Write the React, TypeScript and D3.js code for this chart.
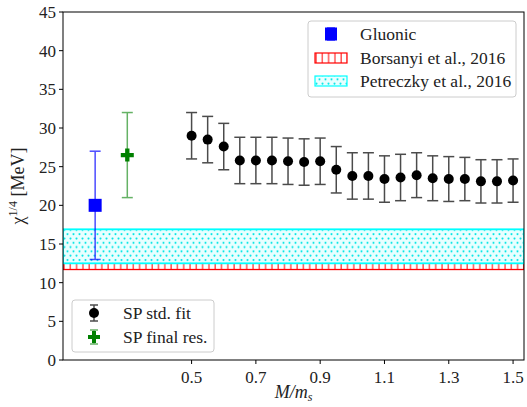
import React from "react";
import * as d3 from "d3";

// SP std. fit
const massRatio = [0.5, 0.55, 0.6, 0.65, 0.7, 0.75, 0.8, 0.85, 0.9, 0.95, 1.0, 1.05, 1.1, 1.15, 1.2, 1.25, 1.3, 1.35, 1.4, 1.45, 1.5];
const chiValue = [29.0, 28.5, 27.6, 25.8, 25.8, 25.8, 25.7, 25.6, 25.7, 24.6, 23.8, 23.8, 23.4, 23.6, 23.9, 23.5, 23.4, 23.4, 23.1, 23.1, 23.2];
const chiErr = [3.0, 3.0, 3.0, 3.0, 3.0, 3.0, 3.0, 3.0, 3.0, 3.0, 3.0, 3.0, 3.0, 3.0, 2.9, 2.9, 2.9, 2.8, 2.8, 2.8, 2.8];

// gluonic and SP final result
const gluonic = { x: 0.2, y: 20.0, lo: 13.0, hi: 27.0 };
const spFinal = { x: 0.3, y: 26.5, lo: 21.0, hi: 32.0 };

// bands
const borsanyi = [11.7, 12.5];
const petreczky = [12.5, 16.9];

const xTicks = [0.5, 0.7, 0.9, 1.1, 1.3, 1.5];
const yTicks = [0, 5, 10, 15, 20, 25, 30, 35, 40, 45];

const W = 527;
const H = 407;
const FONT = "'Liberation Serif', 'DejaVu Serif', serif";

const plusPath = (s: number) => {
  const a = s / 2;
  const b = s / 6;
  return `M${-b},${-a}H${b}V${-b}H${a}V${b}H${b}V${a}H${-b}V${b}H${-a}V${-b}H${-b}Z`;
};

const ErrBar = ({ x, y0, y1, cap, color, opacity = 1 }: any) => (
  <g stroke={color} strokeWidth={1.5} opacity={opacity}>
    <line x1={x} x2={x} y1={y0} y2={y1} />
    <line x1={x - cap} x2={x + cap} y1={y0} y2={y0} />
    <line x1={x - cap} x2={x + cap} y1={y1} y2={y1} />
  </g>
);

export default function App() {
  const left = 63;
  const right = 524;
  const top = 12;
  const bottom = 360;

  const x = d3.scaleLinear().domain([0.1, 1.534]).range([left, right]);
  const y = d3.scaleLinear().domain([0, 45]).range([bottom, top]);

  return (
    <svg width={W} height={H} style={{ position: "absolute", left: 0, top: 0, background: "#fff" }} fontFamily={FONT}>
      <defs>
        <pattern id="vhatch" width={6.3} height={10} patternUnits="userSpaceOnUse">
          <line x1={1} x2={1} y1={0} y2={10} stroke="red" strokeWidth={1} />
        </pattern>
        <pattern id="dots" width={6} height={8.6} patternUnits="userSpaceOnUse">
          <rect width={6} height={8.6} fill="#e8ffff" />
          <circle cx={1.5} cy={2} r={1.05} fill="#00e5e5" />
          <circle cx={4.5} cy={6.3} r={1.05} fill="#00e5e5" />
        </pattern>
        <clipPath id="plot">
          <rect x={left} y={top} width={right - left} height={bottom - top} />
        </clipPath>
      </defs>

      <g clipPath="url(#plot)">
        <rect x={left} y={y(borsanyi[1])} width={right - left} height={y(borsanyi[0]) - y(borsanyi[1])} fill="url(#vhatch)" stroke="red" strokeWidth={1.3} />
        <rect x={left} y={y(petreczky[1])} width={right - left} height={y(petreczky[0]) - y(petreczky[1])} fill="url(#dots)" stroke="cyan" strokeWidth={1.8} />
      </g>

      {/* gluonic */}
      <ErrBar x={x(gluonic.x)} y0={y(gluonic.lo)} y1={y(gluonic.hi)} cap={5.5} color="blue" opacity={0.7} />
      <rect x={x(gluonic.x) - 6.5} y={y(gluonic.y) - 6.5} width={13} height={13} fill="blue" />

      {/* SP final */}
      <ErrBar x={x(spFinal.x)} y0={y(spFinal.lo)} y1={y(spFinal.hi)} cap={5.5} color="green" opacity={0.6} />
      <path d={plusPath(13)} transform={`translate(${x(spFinal.x)},${y(spFinal.y)})`} fill="green" />

      {/* SP std fit */}
      {massRatio.map((m, i) => (
        <g key={m}>
          <ErrBar x={x(m)} y0={y(chiValue[i] - chiErr[i])} y1={y(chiValue[i] + chiErr[i])} cap={5.5} color="black" opacity={0.7} />
          <circle cx={x(m)} cy={y(chiValue[i])} r={5} fill="black" />
        </g>
      ))}

      {/* frame */}
      <rect x={left} y={top} width={right - left} height={bottom - top} fill="none" stroke="black" strokeWidth={1} />

      {/* y axis */}
      {yTicks.map((t) => (
        <g key={t}>
          <line x1={left - 4} x2={left} y1={y(t)} y2={y(t)} stroke="black" />
          <text x={left - 7} y={y(t)} dy="0.35em" textAnchor="end" fontSize={17} fill="#222">{t}</text>
        </g>
      ))}
      {/* x axis */}
      {xTicks.map((t) => (
        <g key={t}>
          <line x1={x(t)} x2={x(t)} y1={bottom} y2={bottom + 4} stroke="black" />
          <text x={x(t)} y={bottom + 17} dy="0.35em" textAnchor="middle" fontSize={17} fill="#222">{d3.format(".1f")(t)}</text>
        </g>
      ))}

      <text x={(left + right) / 2} y={398} textAnchor="middle" fontSize={18} fontStyle="italic" fill="#222">
        M/m<tspan fontSize={12} dy={3}>s</tspan>
      </text>
      <text transform={`translate(24,${(top + bottom) / 2}) rotate(-90)`} textAnchor="middle" fontSize={18} fill="#222">
        χ<tspan fontSize={12} dy={-7}>1/4</tspan><tspan dy={7}> [MeV]</tspan>
      </text>

      {/* top legend */}
      <g>
        <rect x={308} y={21} width={208} height={76} rx={3} fill="#fff" fillOpacity={0.8} stroke="#ccc" />
        <ErrBar x={331} y0={28} y1={40} cap={4} color="blue" opacity={0.7} />
        <rect x={325} y={27.5} width={12} height={13} fill="blue" />
        <text x={360} y={34} dy="0.35em" fontSize={17.5} fill="#222">Gluonic</text>
        <rect x={315} y={53} width={32} height={10} fill="url(#vhatch)" stroke="red" strokeWidth={1.2} />
        <text x={360} y={58} dy="0.35em" fontSize={17.5} fill="#222">Borsanyi et al., 2016</text>
        <rect x={315} y={76} width={32} height={10} fill="url(#dots)" stroke="cyan" strokeWidth={1.2} />
        <text x={360} y={81} dy="0.35em" fontSize={17.5} fill="#222">Petreczky et al., 2016</text>
      </g>

      {/* bottom legend */}
      <g>
        <rect x={72} y={300} width={142} height={52} rx={3} fill="#fff" fillOpacity={0.8} stroke="#ccc" />
        <ErrBar x={94} y0={305} y1={321} cap={4} color="black" opacity={0.7} />
        <circle cx={94} cy={313} r={5} fill="black" />
        <text x={123} y={313} dy="0.35em" fontSize={17.5} fill="#222">SP std. fit</text>
        <ErrBar x={94} y0={330} y1={344} cap={4} color="green" opacity={0.6} />
        <path d={plusPath(12)} transform="translate(94,337)" fill="green" />
        <text x={123} y={337} dy="0.35em" fontSize={17.5} fill="#222">SP final res.</text>
      </g>
    </svg>
  );
}
